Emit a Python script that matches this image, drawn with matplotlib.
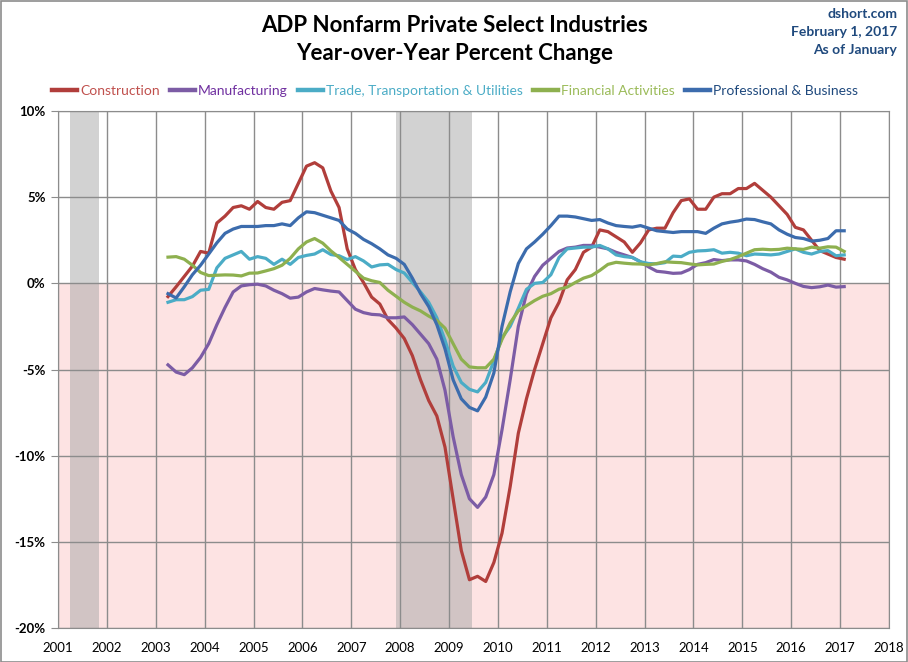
"""ADP Nonfarm Private Select Industries, year-over-year percent change."""
import numpy as np
import matplotlib
matplotlib.use("Agg")
import matplotlib.pyplot as plt
from matplotlib.lines import Line2D
from matplotlib.patches import Rectangle

plt.rcParams.update({
    "font.family": ["Lato", "DejaVu Sans"],
    "axes.unicode_minus": False,
})

# bimonthly readings, Mar 2003 .. Jan 2017 (x = year + month/12)
start_year, start_month, n_points = 2003, 3, 84

construction = [
    -0.77, -0.2, 0.4, 1.0, 1.85, 1.75, 3.5, 3.9, 4.4, 4.5, 4.3, 4.75,
    4.4, 4.3, 4.7, 4.8, 5.8, 6.8, 7.0, 6.7, 5.35, 4.4, 2.0, 0.8,
    0.05, -0.8, -1.2, -2.1, -2.6, -3.2, -4.2, -5.6, -6.8, -7.7, -9.5, -12.5,
    -15.5, -17.2, -17.0, -17.3, -16.2, -14.5, -11.8, -8.7, -6.7, -5.0, -3.5, -2.0,
    -1.1, 0.2, 0.8, 1.8, 2.1, 3.1, 3.0, 2.7, 2.4, 1.8, 2.35, 3.1,
    3.2, 3.2, 4.1, 4.8, 4.9, 4.3, 4.3, 5.0, 5.2, 5.2, 5.5, 5.5,
    5.8, 5.4, 5.0, 4.5, 4.0, 3.25, 3.1, 2.5, 1.9, 1.7, 1.5, 1.4,
]
manufacturing = [
    -4.73, -5.15, -5.3, -4.9, -4.3, -3.5, -2.4, -1.4, -0.5, -0.15, -0.08, -0.05,
    -0.15, -0.4, -0.6, -0.86, -0.8, -0.5, -0.3, -0.38, -0.45, -0.5, -1.0, -1.5,
    -1.7, -1.8, -1.83, -2.0, -2.0, -1.95, -2.4, -2.95, -3.5, -4.4, -6.2, -8.9,
    -11.1, -12.5, -13.0, -12.4, -11.1, -8.5, -5.6, -2.5, -0.6, 0.4, 1.05, 1.45,
    1.85, 2.05, 2.1, 2.2, 2.2, 2.1, 2.0, 1.8, 1.65, 1.5, 1.25, 0.95,
    0.7, 0.65, 0.58, 0.6, 0.8, 1.1, 1.2, 1.38, 1.32, 1.36, 1.36, 1.3,
    1.1, 0.85, 0.65, 0.35, 0.2, 0.0, -0.18, -0.25, -0.2, -0.1, -0.22, -0.19,
]
trade = [
    -1.1, -0.95, -0.95, -0.77, -0.4, -0.35, 0.9, 1.45, 1.65, 1.85, 1.4, 1.55,
    1.45, 1.1, 1.4, 1.1, 1.5, 1.62, 1.7, 1.95, 1.67, 1.6, 1.38, 1.55,
    1.3, 0.95, 1.07, 1.1, 0.8, 0.6, 0.05, -0.5, -1.1, -2.0, -3.3, -4.8,
    -5.75, -6.15, -6.3, -5.75, -4.5, -3.15, -2.5, -1.45, -0.35, 0.0, 0.05, 0.5,
    1.5, 2.0, 2.05, 2.1, 2.1, 2.2, 2.0, 1.65, 1.55, 1.5, 1.25, 1.15,
    1.13, 1.2, 1.58, 1.55, 1.8, 1.88, 1.9, 1.95, 1.75, 1.8, 1.75, 1.6,
    1.7, 1.68, 1.65, 1.7, 1.85, 2.0, 1.8, 1.7, 1.85, 1.9, 1.6, 1.65,
]
financial = [
    1.52, 1.55, 1.4, 1.05, 0.63, 0.45, 0.47, 0.49, 0.48, 0.43, 0.59, 0.6,
    0.72, 0.85, 1.05, 1.45, 2.0, 2.4, 2.6, 2.33, 1.88, 1.5, 1.1, 0.7,
    0.3, 0.15, 0.05, -0.4, -0.75, -1.1, -1.38, -1.6, -1.9, -2.15, -2.6, -3.5,
    -4.4, -4.85, -4.9, -4.9, -4.4, -3.25, -2.3, -1.6, -1.3, -1.0, -0.75, -0.6,
    -0.34, -0.22, 0.05, 0.3, 0.45, 0.75, 1.1, 1.22, 1.17, 1.13, 1.12, 1.07,
    1.15, 1.25, 1.22, 1.2, 1.13, 1.07, 1.1, 1.12, 1.27, 1.38, 1.55, 1.75,
    1.95, 1.98, 1.95, 1.97, 2.04, 2.0, 1.97, 2.1, 2.04, 2.12, 2.1, 1.85,
]
professional = [
    -0.6, -0.85, -0.2, 0.5, 1.05, 1.7, 2.35, 2.9, 3.15, 3.3, 3.3, 3.3,
    3.35, 3.35, 3.45, 3.35, 3.8, 4.15, 4.1, 3.95, 3.8, 3.65, 3.15, 2.9,
    2.55, 2.3, 2.0, 1.65, 1.45, 1.1, 0.3, -0.6, -1.35, -2.4, -3.8, -5.6,
    -6.7, -7.2, -7.4, -6.6, -5.2, -2.5, -0.5, 1.15, 2.0, 2.4, 2.85, 3.35,
    3.9, 3.9, 3.85, 3.75, 3.65, 3.7, 3.5, 3.35, 3.3, 3.26, 3.35, 3.2,
    3.05, 3.0, 2.95, 3.0, 3.0, 3.0, 2.9, 3.2, 3.45, 3.55, 3.62, 3.73,
    3.7, 3.57, 3.45, 3.1, 2.85, 2.66, 2.6, 2.45, 2.5, 2.6, 3.05, 3.05,
]

series_labels = ["Construction", "Manufacturing", "Trade, Transportation & Utilities",
                 "Financial Activities", "Professional & Business"]
recessions = [(2001.25, 2001.84), (2007.92, 2009.46)]
year_ticks = list(range(2001, 2019))
pct_ticks = [10, 5, 0, -5, -10, -15, -20]

line_colors = ["#B13E3B", "#7C5CA5", "#4BACC6", "#8EB04F", "#3C6CAD"]
text_colors = ["#C0504D", "#7030A0", "#4BACC6", "#9BBB59", "#1F497D"]

months = start_month + 2 * np.arange(n_points)
dates = start_year + months / 12.0

fig = plt.figure(figsize=(9.08, 6.62), dpi=100)
W, H = 908, 662
ax = fig.add_axes([58 / W, 1 - 628 / H, (889 - 58) / W, (628 - 111) / H])

ax.set_xlim(2001, 2018)
ax.set_ylim(-20, 10)
ax.axhspan(-20, 0, color="#FDE3E3", zorder=0, lw=0)
for a, b in recessions:
    ax.axvspan(a, b, color="#A6A6A6", alpha=0.5, zorder=0.5, lw=0)

ax.set_xticks(year_ticks)
ax.set_yticks(pct_ticks)
ax.set_yticklabels([f"{v}%" for v in pct_ticks], fontweight="bold")
ax.grid(True, color="#8C8C8C", lw=1.0, zorder=1)
ax.set_axisbelow(False)
for s in ax.spines.values():
    s.set_color("#8C8C8C")
ax.tick_params(axis="both", colors="#8C8C8C", labelcolor="black", labelsize=9.5)
ax.tick_params(axis="x", length=0, pad=10)
ax.tick_params(axis="y", length=5, pad=4)

all_series = [construction, manufacturing, trade, financial, professional]
for vals, lab, col in zip(all_series, series_labels, line_colors):
    ax.plot(dates, vals, color=col, lw=2.3, label=lab, zorder=3,
            solid_joinstyle="round")

handles = [Line2D([], [], color=c, lw=3.2) for c in line_colors]
leg = fig.legend(handles, series_labels, loc="center",
                 bbox_to_anchor=(455 / W, 1 - 91 / H),
                 ncol=5, frameon=False, fontsize=10, handlelength=1.8,
                 handletextpad=0.2, columnspacing=0.75)
for txt, c in zip(leg.get_texts(), text_colors):
    txt.set_color(c)

fig.text(455 / W, 1 - 25 / H, "ADP Nonfarm Private Select Industries",
         ha="center", va="center", fontsize=16, fontweight="bold")
fig.text(455 / W, 1 - 54 / H, "Year-over-Year Percent Change",
         ha="center", va="center", fontsize=16, fontweight="bold")
for i, s in enumerate(["dshort.com", "February 1, 2017", "As of January"]):
    fig.text(897 / W, 1 - (14 + 18 * i) / H, s, ha="right", va="center",
             fontsize=10, fontweight="bold", color="#1F497D")

fig.patches.append(Rectangle((0.5 / W, 0.5 / H), 1 - 1.5 / W, 1 - 1.5 / H,
                             transform=fig.transFigure, fill=False,
                             edgecolor="#8C8C8C", lw=1.2))

fig.savefig("out.png", dpi=100)
